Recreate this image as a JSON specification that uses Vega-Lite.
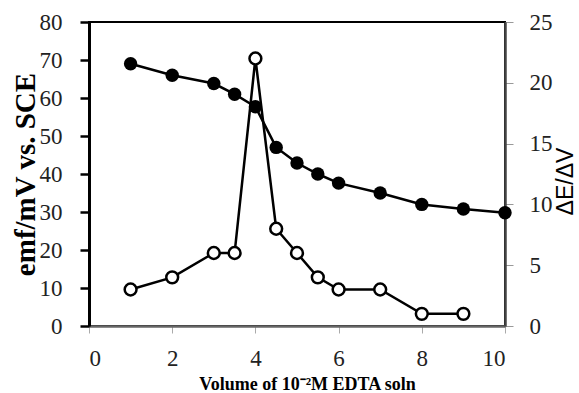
{
  "$schema": "https://vega.github.io/schema/vega-lite/v6.json",
  "autosize": "none",
  "width": 416,
  "height": 304,
  "padding": {"left": 89, "top": 22, "right": 74, "bottom": 67},
  "background": "white",
  "config": {
    "view": {"stroke": "black", "strokeWidth": 2},
    "axis": {"grid": false, "labelFont": "Liberation Serif", "labelFontSize": 23, "labelColor": "#222", "titleColor": "black"}
  },
  "datasets": {
    "emf": [
      {"v": 1, "emf": 69}, {"v": 2, "emf": 66}, {"v": 3, "emf": 63.8}, {"v": 3.5, "emf": 61},
      {"v": 4, "emf": 57.7}, {"v": 4.5, "emf": 47}, {"v": 5, "emf": 42.9}, {"v": 5.5, "emf": 40},
      {"v": 6, "emf": 37.6}, {"v": 7, "emf": 35}, {"v": 8, "emf": 32}, {"v": 9, "emf": 30.8}, {"v": 10, "emf": 29.8}
    ],
    "deriv": [
      {"v": 1, "d": 3}, {"v": 2, "d": 4}, {"v": 3, "d": 6}, {"v": 3.5, "d": 6}, {"v": 4, "d": 22},
      {"v": 4.5, "d": 8}, {"v": 5, "d": 6}, {"v": 5.5, "d": 4}, {"v": 6, "d": 3}, {"v": 7, "d": 3},
      {"v": 8, "d": 1}, {"v": 9, "d": 1}
    ]
  },
  "layer": [
    {
      "data": {"name": "emf"},
      "mark": {"type": "line", "color": "black", "strokeWidth": 2.5, "point": {"filled": true, "fill": "black", "size": 180, "strokeWidth": 0}},
      "encoding": {
        "x": {"field": "v", "type": "quantitative", "scale": {"domain": [0, 10], "nice": false},
          "axis": {"values": [0, 2, 4, 6, 8, 10], "title": "Volume of 10⁻²M EDTA soln", "titleFont": "Liberation Serif", "titleFontWeight": "bold", "titleFontSize": 18,
            "titleX": 218, "titleY": 63, "titleBaseline": "alphabetic", "titleAlign": "center",
            "domainColor": "#666", "domainWidth": 2.5, "tickColor": "#aaa", "tickSize": 7, "labelPadding": 14}},
        "y": {"field": "emf", "type": "quantitative", "scale": {"domain": [0, 80], "nice": false},
          "axis": {"values": [0, 10, 20, 30, 40, 50, 60, 70, 80], "title": "emf/mV vs. SCE", "titleFont": "Liberation Serif", "titleFontWeight": "bold", "titleFontSize": 29,
            "titleX": -55, "titleY": 152, "titleAngle": 270, "titleBaseline": "alphabetic", "titleAlign": "center",
            "domainColor": "black", "domainWidth": 3, "tickColor": "black", "tickWidth": 2.5, "tickSize": 9, "labelPadding": 18}}
      }
    },
    {
      "data": {"name": "deriv"},
      "mark": {"type": "line", "color": "black", "strokeWidth": 2.5, "point": {"filled": false, "fill": "white", "stroke": "black", "size": 140, "strokeWidth": 2.5}},
      "encoding": {
        "x": {"field": "v", "type": "quantitative"},
        "y": {"field": "d", "type": "quantitative", "scale": {"domain": [0, 25], "nice": false},
          "axis": {"orient": "right", "values": [0, 5, 10, 15, 20, 25], "title": "ΔE/ΔV", "titleFont": "Liberation Sans", "titleFontWeight": "normal", "titleFontSize": 23,
            "titleX": 67, "titleY": 159, "titleAngle": 270, "titleBaseline": "alphabetic", "titleAlign": "center",
            "domainColor": "#444", "domainWidth": 2.5, "tickColor": "#999", "tickSize": 8, "labelPadding": 16}}
      }
    }
  ],
  "resolve": {"scale": {"y": "independent"}}
}
